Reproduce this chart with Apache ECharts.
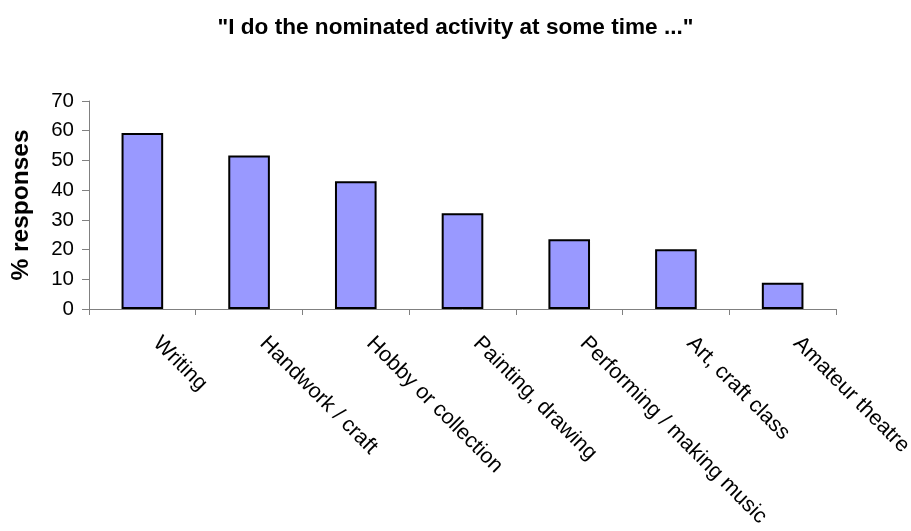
<!DOCTYPE html>
<html><head><meta charset="utf-8">
<script src="https://cdn.jsdelivr.net/npm/echarts@6/dist/echarts.min.js"></script>
<style>html,body{margin:0;padding:0;background:#fff}#c{width:911px;height:531px}</style>
</head><body><div id="c"></div>
<script>
const categories = ["Writing", "Handwork / craft", "Hobby or collection", "Painting, drawing", "Performing / making music", "Art, craft class", "Amateur theatre"];
const values = [59.2, 51.7, 43.0, 32.2, 23.5, 20.1, 8.8];
const yTicks = [0, 10, 20, 30, 40, 50, 60, 70];
const titleText = '"I do the nominated activity at some time ..."';
const yName = '% responses';

const chart = echarts.init(document.getElementById('c'), null, {renderer: 'canvas'});
const font = 'Liberation Sans, Arial, sans-serif';
chart.setOption({
  animation: false,
  title: {text: titleText, left: 'center', top: 11,
    textStyle: {fontFamily: font, fontSize: 22.6, fontWeight: 'bold', color: '#000'}},
  grid: {left: 89, right: 75, top: 101, bottom: 222, containLabel: false, outerBoundsMode: 'none'},
  xAxis: {type: 'category', data: categories, boundaryGap: true,
    axisLine: {lineStyle: {color: '#808080', width: 1}},
    axisTick: {show: true, alignWithLabel: false, length: 6, lineStyle: {color: '#808080'}},
    axisLabel: {rotate: -45, fontFamily: font, fontSize: 21.5, color: '#000', margin: 17, interval: 0,
      padding: [0, 0, 0, 20]}},
  yAxis: {type: 'value', min: yTicks[0], max: yTicks[yTicks.length - 1], interval: 10,
    name: yName, nameLocation: 'middle', nameGap: 55, nameRotate: 90,
    nameTextStyle: {fontFamily: font, fontSize: 24.5, fontWeight: 'bold', color: '#000'},
    axisLine: {show: true, lineStyle: {color: '#808080'}},
    axisTick: {show: true, length: 7, lineStyle: {color: '#808080'}},
    axisLabel: {fontFamily: font, fontSize: 20.5, color: '#000', margin: 15},
    splitLine: {show: false}},
  series: [{type: 'bar', data: values, barWidth: '39%',
    itemStyle: {color: '#9999FF', borderColor: '#000', borderWidth: 2}}]
});
</script></body></html>
